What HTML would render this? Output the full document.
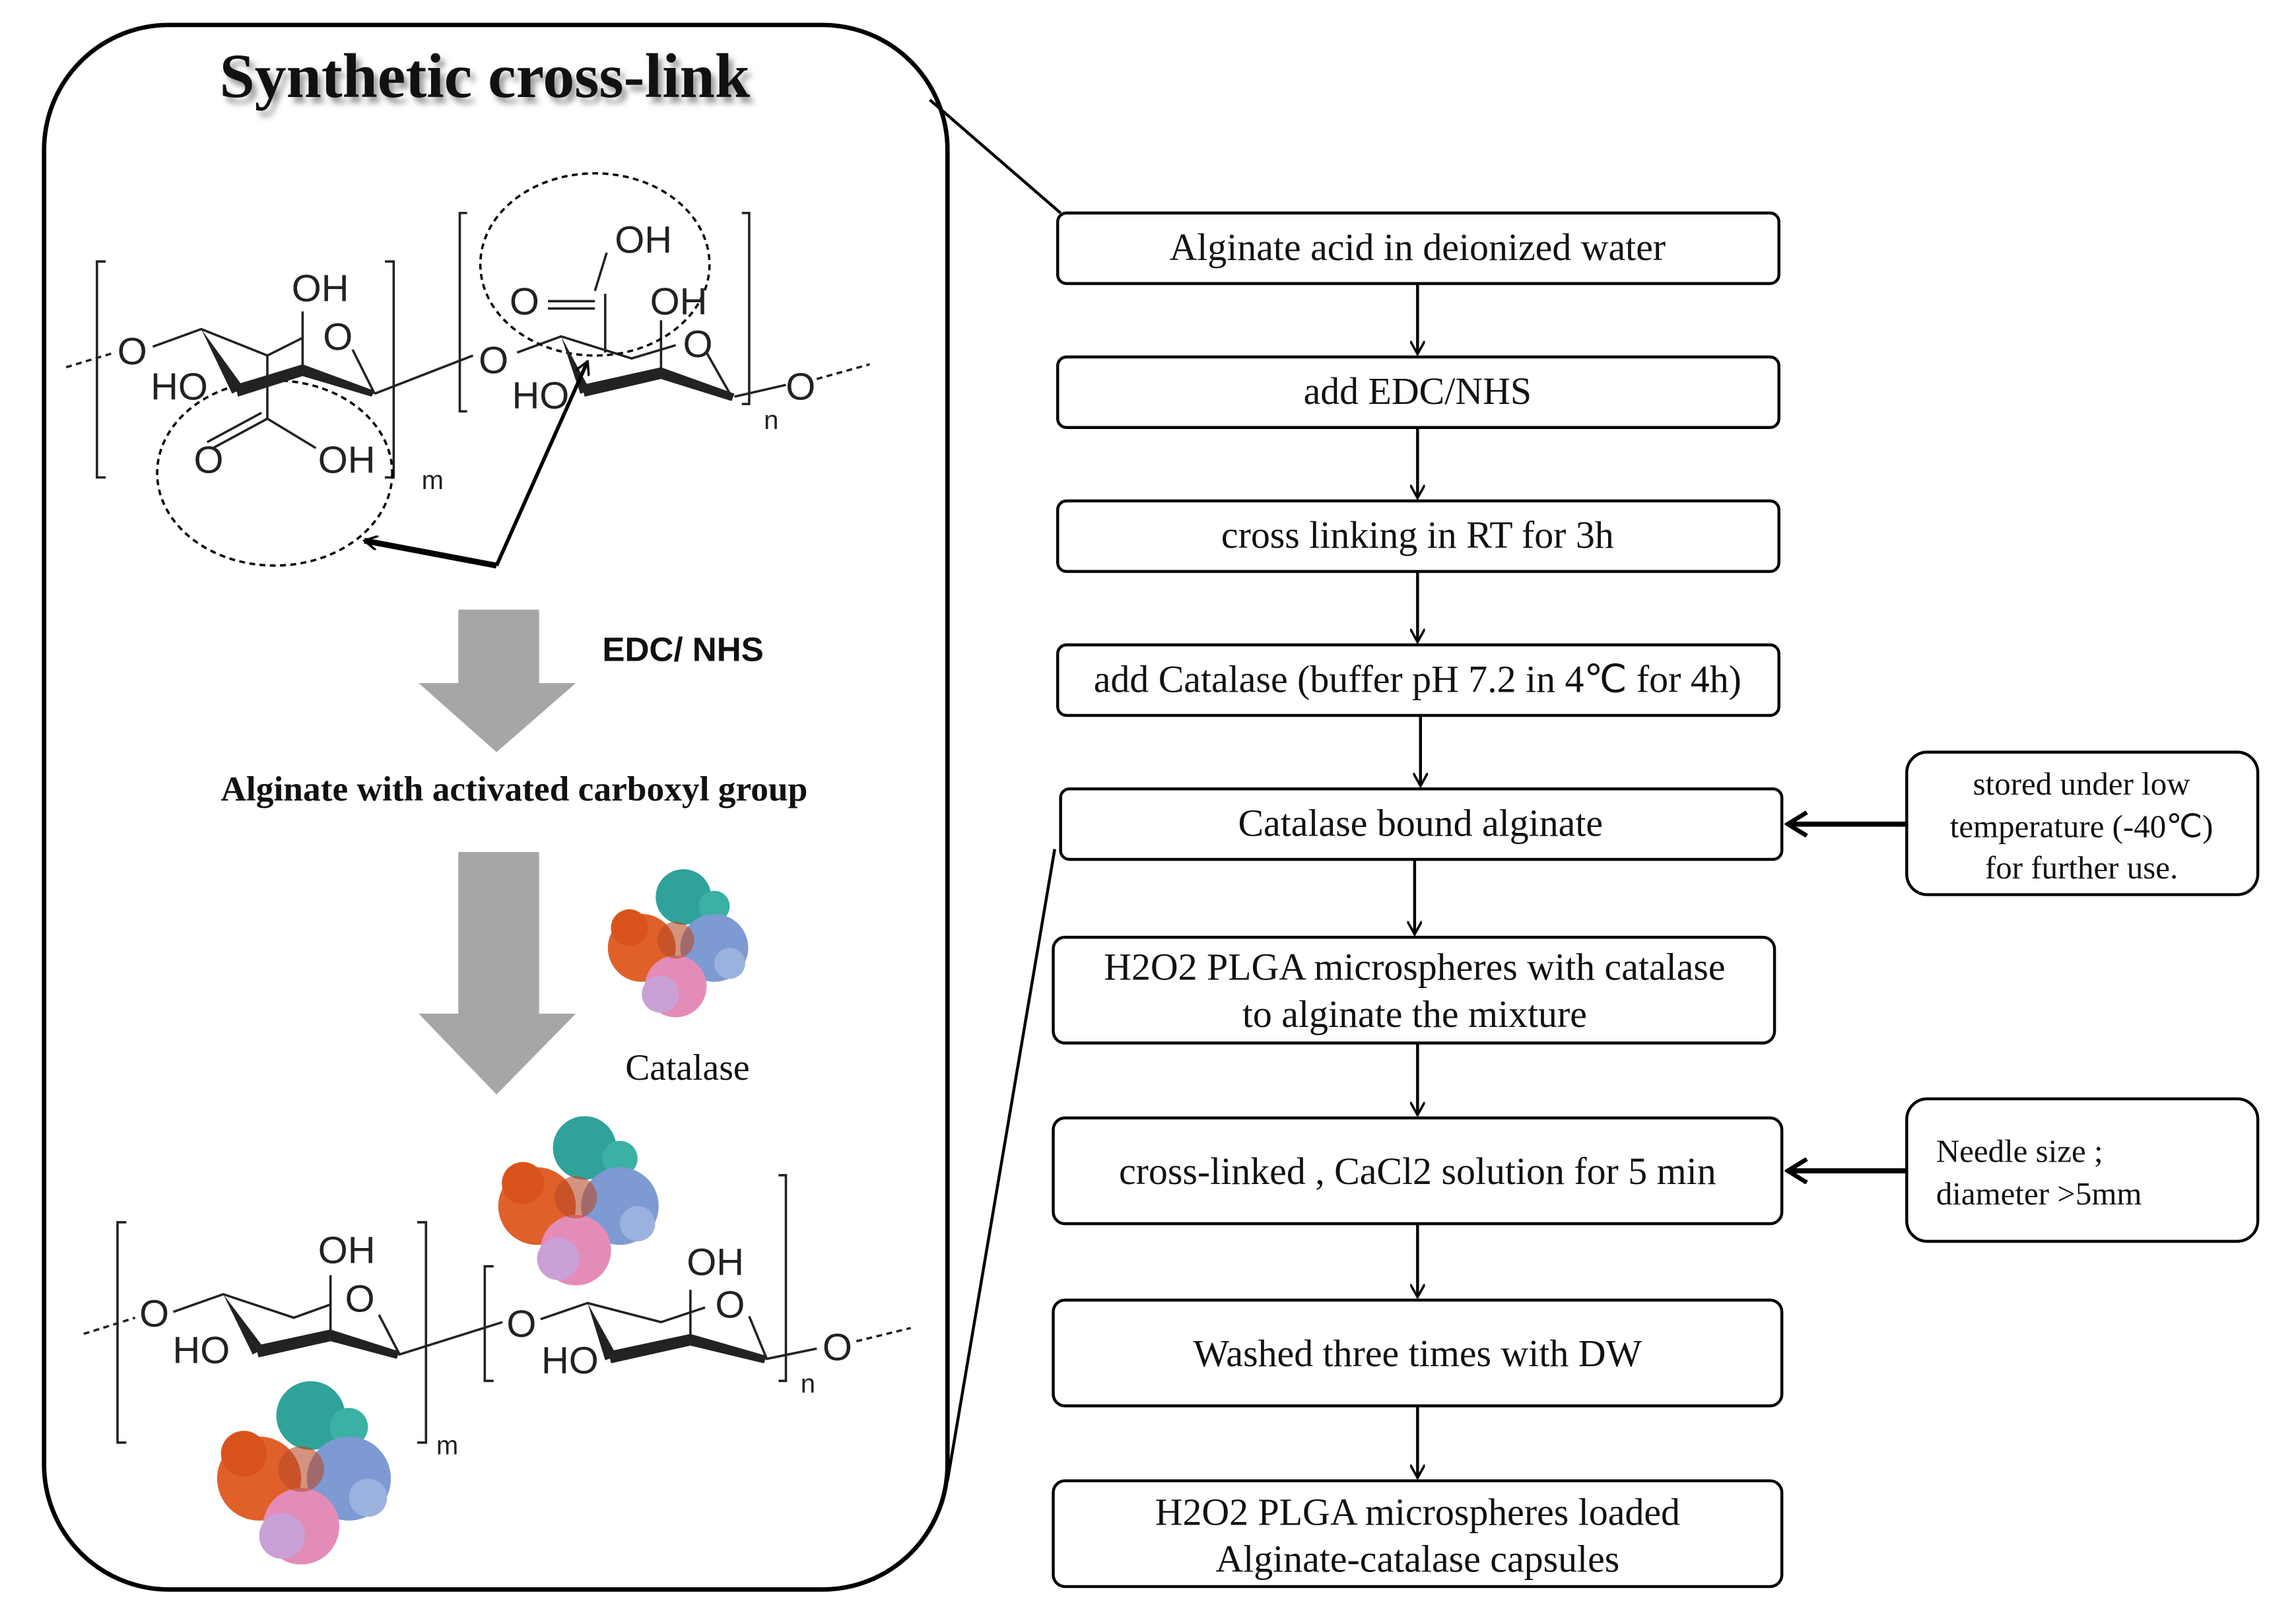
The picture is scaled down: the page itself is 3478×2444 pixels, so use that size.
<!DOCTYPE html>
<html><head><meta charset="utf-8"><style>
html,body{margin:0;padding:0;background:#fff}
svg{display:block}
.s{font-family:"Liberation Serif",serif;font-size:26px;fill:#111}
.c{font-family:"Liberation Sans",sans-serif;font-size:26px;fill:#222}
</style></head><body>
<svg width="3478" height="2444" viewBox="0 0 1563 1098" preserveAspectRatio="none" xmlns="http://www.w3.org/2000/svg">
<defs>
<marker id="ah" markerWidth="10" markerHeight="10" refX="9" refY="5" orient="auto" markerUnits="userSpaceOnUse"><path d="M0,0 L9,5 L0,10" fill="none" stroke="#000" stroke-width="1.6"/></marker>
<marker id="ab" markerWidth="16" markerHeight="18" refX="14" refY="9" orient="auto" markerUnits="userSpaceOnUse"><path d="M1,1 L14,9 L1,17" fill="none" stroke="#000" stroke-width="3"/></marker>
<filter id="sh"><feGaussianBlur stdDeviation="2"/></filter>
<g id="prot">
<circle cx="-22" cy="5" r="22" fill="#e0602a"/><circle cx="-30" cy="-8" r="12" fill="#d9541c"/>
<circle cx="5" cy="-28" r="18" fill="#2fa39a"/><circle cx="25" cy="-22" r="10" fill="#3bb0a4"/>
<circle cx="25" cy="5" r="22" fill="#7d9ad2"/><circle cx="35" cy="15" r="10" fill="#9bb2de"/>
<circle cx="0" cy="30" r="20" fill="#e48cb8"/><circle cx="-10" cy="35" r="12" fill="#c9a1d6"/>
<circle cx="0" cy="0" r="12" fill="#b74b2a" opacity=".6"/>
</g>
</defs>

<rect x="30" y="17" width="615" height="1065" rx="85" fill="none" stroke="#000" stroke-width="3"/>
<text x="330" y="66" text-anchor="middle" font-family="Liberation Serif,serif" font-weight="bold" font-size="43" fill="#999" filter="url(#sh)" transform="translate(3,4)">Synthetic cross-link</text>
<text x="330" y="66" text-anchor="middle" font-family="Liberation Serif,serif" font-weight="bold" font-size="43" fill="#111">Synthetic cross-link</text>
<line x1="633" y1="68" x2="722" y2="145" stroke="#000" stroke-width="2"/>
<line x1="718" y1="578" x2="645" y2="1008" stroke="#000" stroke-width="2"/>

<g stroke="#222" stroke-width="1.6" fill="none">
<line x1="45" y1="250" x2="78" y2="240" stroke-dasharray="4,3"/>
<path d="M72,178 H66 V325 H72"/><path d="M262,178 H268 V325 H262"/>
<path d="M104,236 L137,224 L182,242 L206,230"/>
<path d="M240,238 L255,268"/>
<line x1="206" y1="212" x2="206" y2="252"/>
<line x1="182" y1="242" x2="182" y2="285"/>
<path d="M182,285 L145,305 M178,281 L141,301"/>
<path d="M182,285 L215,305"/>
<path d="M255,268 L322,242"/>
<path d="M318,145 H313 V280 H318"/><path d="M505,145 H510 V275 H505"/>
<path d="M352,240 L382,229 L430,244 L460,235"/>
<line x1="450" y1="218" x2="450" y2="256"/>
<path d="M405,198 L413,172 M412,200 L412,240"/>
<path d="M373,205 L405,205 M373,210 L405,210"/>
<path d="M481,240 L498,270"/>
<path d="M500,270 L535,262"/>
<line x1="556" y1="258" x2="592" y2="248" stroke-dasharray="4,3"/>
<ellipse cx="405" cy="180" rx="78" ry="62" stroke-dasharray="4,3" stroke="#000"/>
<ellipse cx="187" cy="322" rx="80" ry="63" stroke-dasharray="4,3" stroke="#000"/>
</g>
<polygon points="137,224 158,268 166,264" fill="#222"/>
<polygon points="160,262 206,248 206,256 162,270" fill="#222"/>
<polygon points="206,248 255,266 253,270 206,256" fill="#222"/>
<polygon points="382,229 395,268 402,266" fill="#222"/>
<polygon points="396,262 450,250 450,258 398,270" fill="#222"/>
<polygon points="450,250 500,268 498,273 450,258" fill="#222"/>
<g class="c">
<text x="90" y="248" text-anchor="middle">O</text>
<text x="218" y="205" text-anchor="middle">OH</text>
<text x="230" y="238" text-anchor="middle">O</text>
<text x="122" y="272" text-anchor="middle">HO</text>
<text x="142" y="322" text-anchor="middle">O</text>
<text x="236" y="322" text-anchor="middle">OH</text>
<text x="336" y="254" text-anchor="middle">O</text>
<text x="438" y="172" text-anchor="middle">OH</text>
<text x="357" y="214" text-anchor="middle">O</text>
<text x="462" y="214" text-anchor="middle">OH</text>
<text x="475" y="243" text-anchor="middle">O</text>
<text x="368" y="278" text-anchor="middle">HO</text>
<text x="545" y="272" text-anchor="middle">O</text>
<text x="287" y="333" font-size="18">m</text>
<text x="520" y="292" font-size="18">n</text>
</g>
<path d="M338,385 L400,246" stroke="#000" stroke-width="2.5" fill="none" marker-end="url(#ah)"/>
<path d="M338,385 L248,368" stroke="#000" stroke-width="4" fill="none" marker-end="url(#ah)"/>

<path d="M312,415 H367 V465 H392 L338,512 L285,465 H312 Z" fill="#a6a6a6"/>
<text x="410" y="450" font-family="Liberation Sans,sans-serif" font-weight="bold" font-size="23" fill="#111">EDC/ NHS</text>
<text x="350" y="545" text-anchor="middle" font-family="Liberation Serif,serif" font-weight="bold" font-size="24" fill="#111">Alginate with activated carboxyl group</text>
<path d="M312,580 H367 V690 H392 L338,745 L285,690 H312 Z" fill="#a6a6a6"/>
<use href="#prot" transform="translate(460,640) scale(1.05)"/>
<text x="468" y="735" text-anchor="middle" class="s" style="font-size:25px">Catalase</text>
<use href="#prot" transform="translate(392,815) scale(1.2)"/>
<use href="#prot" transform="translate(205,1000) scale(1.3)"/>

<g stroke="#222" stroke-width="1.6" fill="none">
<line x1="57" y1="908" x2="92" y2="897" stroke-dasharray="4,3"/>
<path d="M86,832 H80 V982 H86"/><path d="M284,832 H290 V982 H284"/>
<path d="M118,893 L152,881 L200,897 L225,888"/>
<line x1="225" y1="868" x2="225" y2="910"/>
<path d="M258,895 L272,922 L342,900"/>
<path d="M336,862 H330 V940 H336"/><path d="M530,800 H535 V940 H530"/>
<path d="M368,898 L400,887 L450,900 L480,890"/>
<line x1="470" y1="878" x2="470" y2="912"/>
<path d="M510,896 L522,925 L556,918"/>
<line x1="583" y1="913" x2="620" y2="904" stroke-dasharray="4,3"/>
</g>
<polygon points="152,881 172,922 180,918" fill="#222"/>
<polygon points="174,916 225,905 225,913 176,924" fill="#222"/>
<polygon points="225,905 272,920 270,925 225,913" fill="#222"/>
<polygon points="400,887 412,926 420,923" fill="#222"/>
<polygon points="414,920 470,908 470,916 416,928" fill="#222"/>
<polygon points="470,908 522,923 520,928 470,916" fill="#222"/>
<g class="c">
<text x="105" y="903" text-anchor="middle">O</text>
<text x="236" y="860" text-anchor="middle">OH</text>
<text x="245" y="893" text-anchor="middle">O</text>
<text x="137" y="928" text-anchor="middle">HO</text>
<text x="355" y="910" text-anchor="middle">O</text>
<text x="487" y="868" text-anchor="middle">OH</text>
<text x="497" y="897" text-anchor="middle">O</text>
<text x="388" y="935" text-anchor="middle">HO</text>
<text x="570" y="926" text-anchor="middle">O</text>
<text x="297" y="990" font-size="18">m</text>
<text x="545" y="948" font-size="18">n</text>
</g>

<g fill="none" stroke="#000" stroke-width="2">
<rect x="720" y="145" width="491" height="48" rx="6"/>
<rect x="720" y="243" width="491" height="48" rx="6"/>
<rect x="720" y="341" width="491" height="48" rx="6"/>
<rect x="720" y="439" width="491" height="48" rx="6"/>
<rect x="722" y="537" width="491" height="48" rx="6"/>
<rect x="717" y="638" width="491" height="72" rx="8"/>
<rect x="717" y="761" width="496" height="72" rx="8"/>
<rect x="717" y="885" width="496" height="72" rx="8"/>
<rect x="717" y="1008" width="496" height="72" rx="8"/>
<rect x="1298" y="512" width="239" height="97" rx="14"/>
<rect x="1298" y="748" width="239" height="97" rx="14"/>
</g>
<g stroke="#000" stroke-width="2" fill="none" marker-end="url(#ah)">
<line x1="965" y1="193" x2="965" y2="241"/>
<line x1="965" y1="291" x2="965" y2="339"/>
<line x1="965" y1="389" x2="965" y2="437"/>
<line x1="967" y1="487" x2="967" y2="535"/>
<line x1="963" y1="585" x2="963" y2="636"/>
<line x1="965" y1="710" x2="965" y2="759"/>
<line x1="965" y1="833" x2="965" y2="883"/>
<line x1="965" y1="957" x2="965" y2="1006"/>
</g>
<line x1="1298" y1="561" x2="1217" y2="561" stroke="#000" stroke-width="3.5" marker-end="url(#ab)"/>
<line x1="1298" y1="797" x2="1217" y2="797" stroke="#000" stroke-width="3.5" marker-end="url(#ab)"/>
<g class="s" text-anchor="middle">
<text x="965" y="177">Alginate acid  in deionized water</text>
<text x="965" y="275">add EDC/NHS</text>
<text x="965" y="373">cross linking  in RT for 3h</text>
<text x="965" y="471">add Catalase  (buffer pH 7.2 in 4℃  for 4h)</text>
<text x="967" y="569">Catalase bound alginate</text>
<text x="963" y="667">H2O2 PLGA microspheres with  catalase</text>
<text x="963" y="699">to alginate  the mixture</text>
<text x="965" y="806">cross-linked , CaCl2 solution for 5 min</text>
<text x="965" y="930">Washed three times with DW</text>
<text x="965" y="1038">H2O2 PLGA microspheres  loaded</text>
<text x="965" y="1070">Alginate-catalase  capsules</text>
<text x="1417" y="541" style="font-size:22px">stored under low</text>
<text x="1417" y="570" style="font-size:22px">temperature (-40℃)</text>
<text x="1417" y="598" style="font-size:22px">for further use.</text>
</g>
<g class="s">
<text x="1318" y="791" style="font-size:22px">Needle size ;</text>
<text x="1318" y="820" style="font-size:22px">diameter &gt;5mm</text>
</g>
</svg>
</body></html>
